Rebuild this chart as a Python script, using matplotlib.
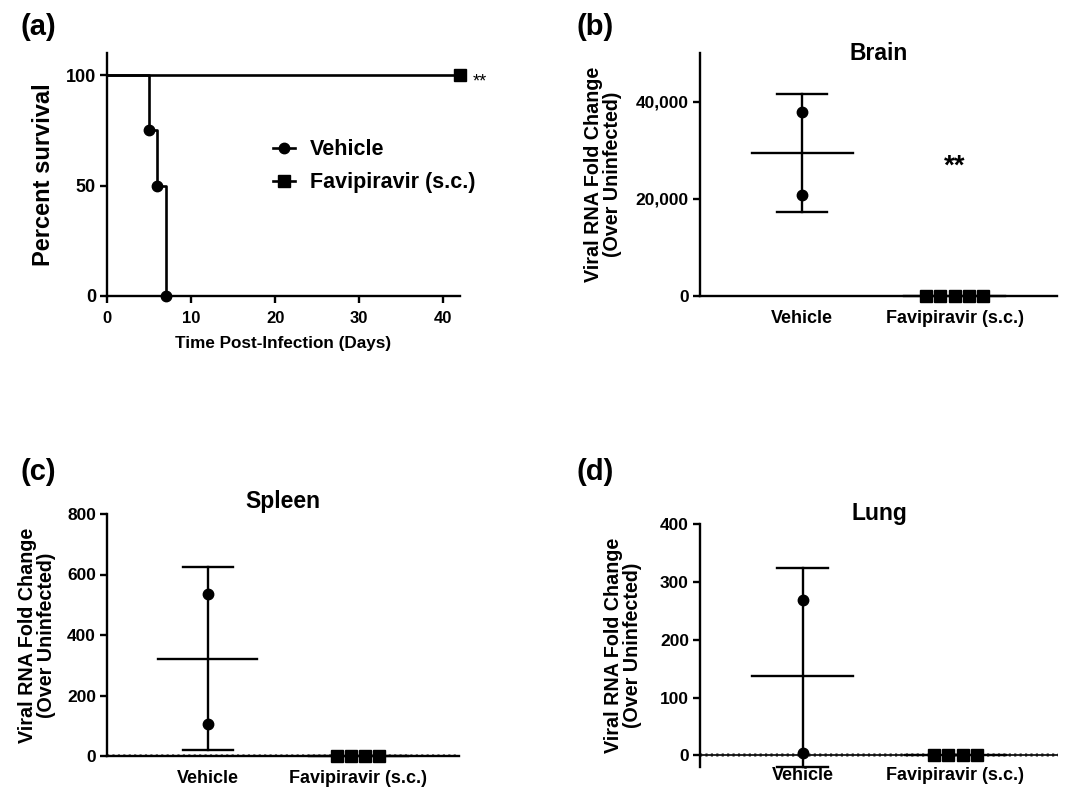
import numpy as np
import matplotlib
matplotlib.use("Agg")
import matplotlib.pyplot as plt
from matplotlib.ticker import FuncFormatter

plt.rcParams['font.family'] = ['Liberation Sans', 'DejaVu Sans']
plt.rcParams['font.weight'] = 'bold'

# ---------------- data ----------------
veh_days = [0, 5, 6, 7]
veh_surv = [100, 75, 50, 0]
fav_days = [0, 42]
fav_surv = [100, 100]

groups = ["Vehicle", "Favipiravir (s.c.)"]

brain_vehicle = [37940, 20820]
brain_fav = [0, 0, 0, 0, 0]
spleen_vehicle = [535, 107]
spleen_fav = [0, 0, 0, 0]
lung_vehicle = [269, 5]
lung_fav = [0, 0, 0, 0]

W, H = 1073, 788
fig = plt.figure(figsize=(W / 100, H / 100), dpi=100)


def ax_px(l, t, r, b):
    return fig.add_axes([l / W, 1 - b / H, (r - l) / W, (b - t) / H])


LW = 1.7

# ---------------- (a) survival ----------------
ax = ax_px(107, 53, 460, 296)
ax.step(veh_days, veh_surv, where='post', color='black', lw=LW + 0.2, clip_on=False)
ax.plot(veh_days[1:], veh_surv[1:], 'o', color='black', ms=7.5, clip_on=False, zorder=5)
ax.plot(fav_days, fav_surv, '-', color='black', lw=LW + 0.2, clip_on=False)
ax.plot(fav_days[-1:], fav_surv[-1:], 's', color='black', ms=8.5, clip_on=False, zorder=5)
ax.set_xlim(0, 42)
ax.set_ylim(0, 110)
ax.set_xticks([0, 10, 20, 30, 40])
ax.set_yticks([0, 50, 100])
for s in ['top', 'right']:
    ax.spines[s].set_visible(False)
for s in ['left', 'bottom']:
    ax.spines[s].set_linewidth(LW)
ax.tick_params(axis='x', width=LW, length=5, labelsize=12, pad=6)
ax.tick_params(axis='y', width=LW, length=5, labelsize=13, pad=3)
for lab in ax.get_xticklabels() + ax.get_yticklabels():
    lab.set_fontweight('bold')
ax.set_xlabel("Time Post-Infection (Days)", fontsize=12.3, fontweight='bold', labelpad=7)
ax.set_ylabel("Percent survival", fontsize=17, fontweight='bold', labelpad=8)
ax.text(43.5, 97, "**", fontsize=13, fontweight='normal', va='center', ha='left')
h1, = ax.plot([], [], '-o', color='black', ms=7.5, lw=LW + 0.2)
h2, = ax.plot([], [], '-s', color='black', ms=8, lw=LW + 0.2)
ax.legend([h1, h2], groups, loc='upper left', bbox_to_anchor=(254 / W, 1 - 120 / H),
          bbox_transform=fig.transFigure, frameon=False, handlelength=1.0,
          handletextpad=0.7, labelspacing=0.55,
          prop={'size': 15.5, 'weight': 'bold'})

for lbl, x, y in [("(a)", 21, 27), ("(b)", 577, 27), ("(c)", 21, 472), ("(d)", 577, 472)]:
    fig.text(x / W, 1 - y / H, lbl, fontsize=21, fontweight='bold', va='center', ha='left')


# ---------------- scatter panels ----------------
def scatter_panel(box, vehicle, fav, ylim, yticks, title, title_y, fmt=None,
                  dotted_zero=False, star=None, xpad=5, ylpad=10):
    ax = ax_px(*box)
    ax.set_xlim(-0.67, 1.67)
    ax.set_ylim(*ylim)
    v = np.array(vehicle, dtype=float)
    m = v.mean()
    sd = v.std(ddof=1)
    lo = max(m - sd, ylim[0])
    hi = m + sd
    # mean line and SD bars
    ax.plot([-0.33, 0.33], [m, m], color='black', lw=LW, clip_on=False)
    ax.plot([0, 0], [lo, hi], color='black', lw=LW, clip_on=False)
    ax.plot([-0.165, 0.165], [hi, hi], color='black', lw=LW, clip_on=False)
    ax.plot([-0.165, 0.165], [lo, lo], color='black', lw=LW, clip_on=False)
    ax.plot(np.zeros(len(v)), v, 'o', color='black', ms=7.5, clip_on=False, zorder=5)
    f = np.array(fav, dtype=float)
    n = len(f)
    offs = (np.arange(n) - (n - 1) / 2) * 0.094
    fm = f.mean()
    ax.plot([1 - 0.33, 1 + 0.33], [fm, fm], color='black', lw=LW, clip_on=False)
    ax.plot(1 + offs, f, 's', color='black', ms=8.7, clip_on=False, zorder=5)
    for s in ['top', 'right']:
        ax.spines[s].set_visible(False)
    ax.spines['left'].set_linewidth(LW)
    ax.spines['bottom'].set_linewidth(LW)
    if dotted_zero:
        ax.axhline(0, color='black', lw=1.2, zorder=3)
        ax.axhline(0, color='black', lw=2.6, ls=(0, (0.6, 0.9)), alpha=0.6, zorder=3)
        if ylim[0] < 0:
            ax.spines['bottom'].set_visible(False)
    ax.set_xticks([0, 1])
    ax.set_xticklabels(groups)
    ax.tick_params(axis='x', length=0, pad=xpad, labelsize=13)
    ax.tick_params(axis='y', width=LW, length=5, labelsize=12.5, pad=3)
    ax.set_yticks(yticks)
    if fmt:
        ax.yaxis.set_major_formatter(FuncFormatter(fmt))
    for lab in ax.get_xticklabels() + ax.get_yticklabels():
        lab.set_fontweight('bold')
    ax.set_ylabel("Viral RNA Fold Change\n(Over Uninfected)", fontsize=14.2,
                  fontweight='bold', linespacing=1.0, labelpad=ylpad)
    ax.text(0.5, title_y, title, transform=ax.transAxes, ha='center', va='center',
            fontsize=16.5, fontweight='bold')
    if star is not None:
        ax.text(1, star, "**", ha='center', va='center', fontsize=20, fontweight='bold')
    return ax


scatter_panel((700, 53, 1057, 296), brain_vehicle, brain_fav, (0, 50000),
              [0, 20000, 40000], "Brain", 1.0,
              fmt=lambda x, p: f"{int(x):,}", star=26600, xpad=10, ylpad=10)
scatter_panel((107, 514, 459, 756), spleen_vehicle, spleen_fav, (0, 800),
              [0, 200, 400, 600, 800], "Spleen", 1.05, dotted_zero=True, xpad=10, ylpad=8)
scatter_panel((700, 524, 1058, 767), lung_vehicle, lung_fav, (-20, 400),
              [0, 100, 200, 300, 400], "Lung", 1.045, dotted_zero=True, xpad=0, ylpad=13)

fig.savefig("out.png", dpi=100)
